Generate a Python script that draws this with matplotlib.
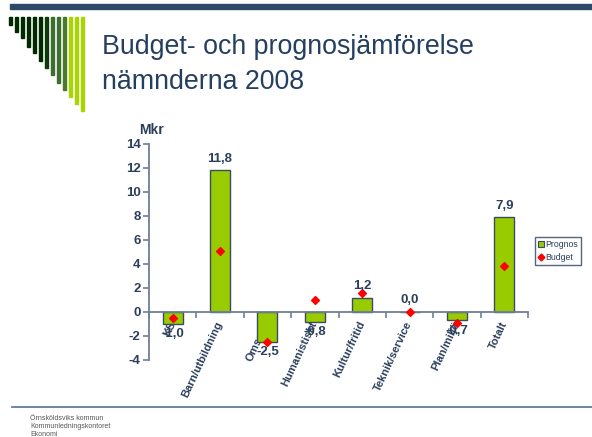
import matplotlib
matplotlib.use("Agg")
import matplotlib.pyplot as plt
from matplotlib.patches import Rectangle
from matplotlib.lines import Line2D

categories = ["KS", "Barn/utbildning", "Omsorg", "Humanistiskt", "Kultur/fritid",
              "Teknik/service", "Plan/miljö", "Totalt"]
prognos = [-1.0, 11.8, -2.5, -0.8, 1.2, 0.0, -0.7, 7.9]
budget = [-0.5, 5.1, -2.5, 1.0, 1.6, 0.0, -0.9, 3.8]
yticks = [-4, -2, 0, 2, 4, 6, 8, 10, 12, 14]

plt.rcParams['font.family'] = ['Liberation Sans', 'DejaVu Sans']
W, H = 592, 437
fig = plt.figure(figsize=(W / 100, H / 100), dpi=100)

TXT = '#2B3F5C'
SPINE = '#6E7F99'

def fx(px):
    return px / W

def fy(py):
    return 1 - py / H

# decorations
fig.patches.append(Rectangle((fx(10), fy(9)), fx(582), 5 / H, transform=fig.transFigure,
                             color='#2E4A6B', zorder=0))
stripe_x = [9, 15, 21, 27, 33, 39, 45, 51, 57, 63, 69, 75, 81]
stripe_end = [25, 32, 38, 47, 53, 61, 68, 75, 83, 90, 97, 104, 111]
stripe_col = ['#002A00', '#002A00', '#002A00', '#002A00', '#002A00', '#002A00',
              '#0B3B0B', '#3C6E2E', '#3C6E2E', '#4A7A2A', '#A8D400', '#A8D400', '#A8D400']
for x0, ye, c in zip(stripe_x, stripe_end, stripe_col):
    fig.patches.append(Rectangle((fx(x0), fy(ye)), 3.2 / W, (ye - 17) / H,
                                 transform=fig.transFigure, color=c, zorder=0))

fig.text(fx(102), fy(47), "Budget- och prognosjämförelse", fontsize=19.3, color='#243F60',
         va='center', ha='left')
fig.text(fx(102), fy(82), "nämnderna 2008", fontsize=19.3, color='#243F60',
         va='center', ha='left')

fig.lines.append(Line2D([fx(12), fx(592)], [fy(407), fy(407)], transform=fig.transFigure,
                        color='#5A6E8C', lw=1.2))
for i, t in enumerate(["Örnsköldsviks kommun", "Kommunledningskontoret", "Ekonomi"]):
    fig.text(fx(30), fy(418 + 8 * i), t, fontsize=5, color='#555555', va='center', ha='left')

# chart
ax = fig.add_axes([fx(149), fy(360), fx(528) - fx(149), (360 - 144) / H])
x = list(range(len(categories)))
ax.bar(x, prognos, width=0.42, color='#99CC00', edgecolor='#3A4A60', linewidth=1.0,
       zorder=2, label='Prognos')
ax.scatter(x, budget, marker='D', s=16, color='#FF0000', zorder=3, label='Budget')

ax.set_xlim(-0.5, len(categories) - 0.5)
ax.set_ylim(-4, 14)
ax.set_yticks(yticks)
ax.set_yticklabels([str(v) for v in yticks], fontsize=9.5, fontweight='bold', color=TXT)

for s in ['top', 'right']:
    ax.spines[s].set_visible(False)
ax.spines['bottom'].set_position(('data', 0))
ax.spines['left'].set_color(SPINE)
ax.spines['bottom'].set_color(SPINE)
ax.spines['left'].set_linewidth(1.3)
ax.spines['bottom'].set_linewidth(1.3)
ax.tick_params(axis='y', colors=SPINE, length=4, width=1.2, labelcolor=TXT, pad=2)

ax.set_xticks(x)
ax.set_xticklabels(categories, rotation=65, ha='right', va='center', rotation_mode='anchor',
                   fontsize=8, fontweight='bold', color=TXT)
ax.tick_params(axis='x', length=0, pad=7)
ax.set_xticks([i - 0.5 for i in range(len(categories) + 1)], minor=True)
ax.tick_params(axis='x', which='minor', length=4, width=1.2, colors=SPINE, direction='out')

for xi, v in zip(x, prognos):
    lbl = f"{v:.1f}".replace('.', ',')
    if v >= 0:
        ax.annotate(lbl, (xi, v), xytext=(0, 4), textcoords='offset points', ha='center',
                    va='bottom', fontsize=9.5, fontweight='bold', color=TXT, zorder=4)
    else:
        ax.annotate(lbl, (xi, v), xytext=(0, -3), textcoords='offset points', ha='center',
                    va='top', fontsize=9.5, fontweight='bold', color=TXT, zorder=4)

ax.text(-0.45, 14.6, "Mkr", fontsize=10, fontweight='bold', color=TXT, ha='center',
        va='bottom')

handles = [Rectangle((0, 0), 1, 1, facecolor='#99CC00', edgecolor='#3A4A60', lw=0.8),
           Line2D([], [], marker='D', color='#FF0000', ls='', markersize=3.5)]
leg = fig.legend(handles, ['Prognos', 'Budget'], loc='upper left',
                 bbox_to_anchor=(fx(535), fy(237)), fontsize=6.3, frameon=True,
                 fancybox=False, handlelength=0.7, handleheight=0.7, handletextpad=0.2,
                 borderpad=0.3, labelspacing=0.5, borderaxespad=0)
leg.get_frame().set_edgecolor('#2B3F5C')
leg.get_frame().set_linewidth(1.0)
for t in leg.get_texts():
    t.set_color('#2B3F5C')

fig.savefig("out.png", dpi=100)
